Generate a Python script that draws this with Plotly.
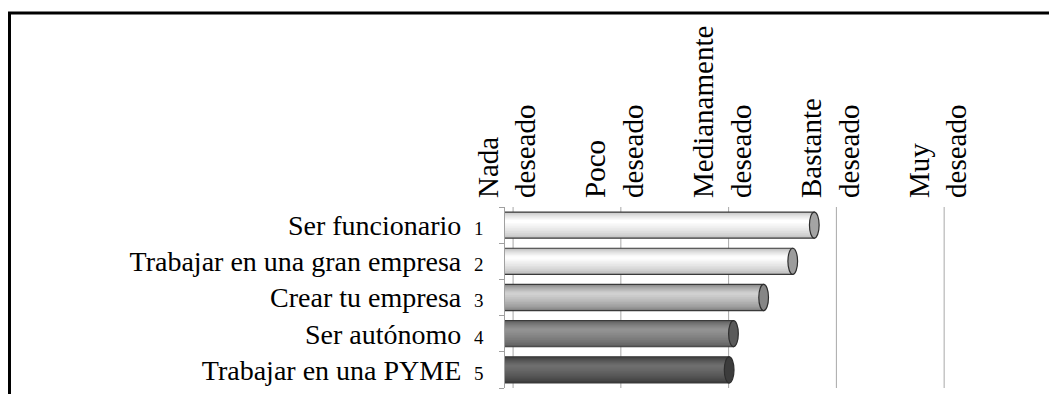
import plotly.graph_objects as go

# data
actividades = ["Ser funcionario", "Trabajar en una gran empresa", "Crear tu empresa",
               "Ser autónomo", "Trabajar en una PYME"]
numeros = ["1", "2", "3", "4", "5"]
valores = [3.85, 3.65, 3.38, 3.10, 3.06]
escala_vals = [1, 2, 3, 4, 5]
escala_txt = ["Nada<br>deseado", "Poco<br>deseado", "Medianamente<br>deseado",
              "Bastante<br>deseado", "Muy<br>deseado"]

# grey level of each cylinder at its edge and at its highlight
gris_borde = [192, 186, 132, 92, 60]
gris_brillo = [255, 253, 208, 146, 110]
tapas = ["#a4a4a4", "#9c9c9c", "#868686", "#5a5a5a", "#3c3c3c"]
n_bandas = 10

fuente = "Liberation Serif, Times New Roman, serif"

fig = go.Figure()

# back-wall gridlines (a little to the right of the labels, like the 3D original)
for v in escala_vals:
    fig.add_shape(type="line", xref="x", yref="paper", x0=v + 0.055, x1=v + 0.055,
                  y0=0, y1=1.0, line=dict(color="#a8a8a8", width=1), layer="below")

# cylinders: stacked narrower bands from edge to highlight
for k in range(n_bandas):
    t = k / (n_bandas - 1)
    w = 0.72 * (1 - t) + 0.08 * t
    c = -0.1 * t
    colores = []
    for a, b in zip(gris_borde, gris_brillo):
        g = int(round(a + (b - a) * t ** 0.7))
        colores.append(f"rgb({g},{g},{g})")
    fig.add_trace(go.Bar(
        y=actividades, x=valores, orientation="h",
        width=w, offset=c - w / 2,
        marker=dict(color=colores,
                    line=dict(color="#3a3a3a" if k == 0 else "rgba(0,0,0,0)",
                              width=1.2 if k == 0 else 0)),
        showlegend=False, hoverinfo="x+y" if k == 0 else "skip",
    ))

# end caps of the cylinders
for i, v in enumerate(valores):
    fig.add_shape(type="circle", xref="x", yref="y",
                  x0=v - 0.045, x1=v + 0.045, y0=i - 0.36, y1=i + 0.36,
                  fillcolor=tapas[i], line=dict(color="#2e2e2e", width=1.2))

# outer frame
fig.add_shape(type="rect", xref="paper", yref="paper",
              x0=-1.116, x1=2.0, y0=-1.0, y1=2.072,
              line=dict(color="black", width=3), fillcolor="rgba(0,0,0,0)")

etiquetas = [f"{a}\u2009 <span style='font-size:19px'>{n}</span>"
             for a, n in zip(actividades, numeros)]

fig.update_layout(
    width=1049, height=386,
    margin=dict(l=497, r=108, t=199, b=6),
    paper_bgcolor="white", plot_bgcolor="white",
    barmode="overlay",
    font=dict(family=fuente, color="black"),
    xaxis=dict(side="top", range=[0.98, 5.1], tickvals=escala_vals, ticktext=escala_txt,
               tickangle=-90, tickfont=dict(size=29, family=fuente, color="black"),
               showgrid=False, zeroline=False, ticks="", ticklabelstandoff=8,
               automargin=False),
    yaxis=dict(type="category", autorange="reversed", tickvals=actividades, ticktext=etiquetas,
               tickfont=dict(size=28, family=fuente, color="black"),
               ticks="outside", tickson="boundaries", ticklen=5, tickcolor="#a0a0a0",
               showline=True, linecolor="#a0a0a0", linewidth=1, showgrid=False,
               ticklabelstandoff=15, automargin=False),
)

fig.write_html("out.html")
